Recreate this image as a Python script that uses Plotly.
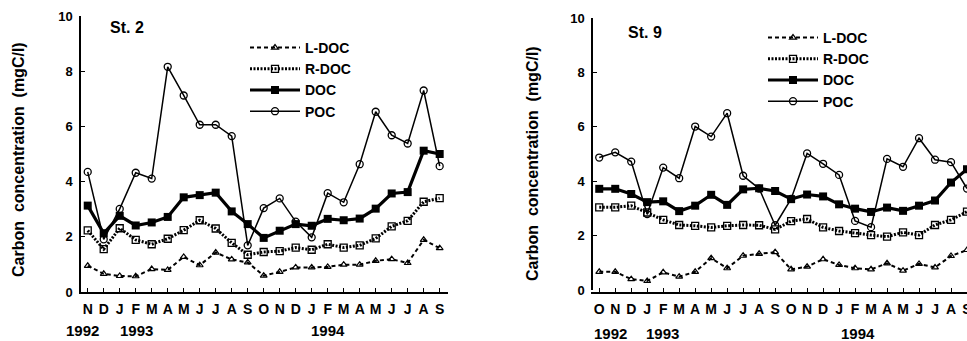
import plotly.graph_objects as go

# ---------------- data ----------------
months_st2 = ["N","D","J","F","M","A","M","J","J","A","S","O","N","D","J","F","M","A","M","J","J","A","S"]
ldoc_st2 = [0.95,0.66,0.58,0.57,0.83,0.80,1.27,0.97,1.43,1.18,1.07,0.59,0.73,0.89,0.89,0.91,0.99,0.99,1.13,1.19,1.05,1.89,1.59]
rdoc_st2 = [2.23,1.55,2.31,1.89,1.73,1.93,2.24,2.60,2.30,1.78,1.35,1.45,1.48,1.61,1.53,1.73,1.61,1.69,1.94,2.38,2.58,3.27,3.40]
doc_st2  = [3.13,2.13,2.76,2.41,2.52,2.72,3.43,3.51,3.60,2.92,2.46,1.96,2.22,2.46,2.40,2.65,2.60,2.66,3.02,3.57,3.62,5.12,5.00]
poc_st2  = [4.35,1.91,3.01,4.32,4.11,8.16,7.12,6.06,6.06,5.65,1.69,3.04,3.39,2.55,1.98,3.58,3.25,4.63,6.53,5.68,5.38,7.30,4.56]

months_st9 = ["O","N","D","J","F","M","A","M","J","J","A","S","O","N","D","J","F","M","A","M","J","J","A","S"]
ldoc_st9 = [0.67,0.67,0.40,0.33,0.65,0.49,0.67,1.17,0.80,1.26,1.33,1.39,0.76,0.86,1.13,0.92,0.80,0.76,0.98,0.71,0.96,0.83,1.25,1.47]
rdoc_st9 = [3.04,3.04,3.10,2.85,2.58,2.39,2.36,2.30,2.36,2.39,2.38,2.23,2.53,2.61,2.30,2.17,2.09,2.02,1.96,2.12,2.02,2.39,2.58,2.88]
doc_st9  = [3.72,3.72,3.53,3.23,3.26,2.90,3.10,3.50,3.13,3.70,3.74,3.64,3.34,3.51,3.44,3.15,2.99,2.87,3.03,2.91,3.10,3.29,3.95,4.44]
poc_st9  = [4.87,5.06,4.72,2.79,4.50,4.11,6.01,5.64,6.50,4.20,3.73,2.38,3.35,5.02,4.64,4.23,2.54,2.31,4.82,4.53,5.58,4.79,4.70,3.73]

series_names = ["L-DOC", "R-DOC", "DOC", "POC"]
y_ticks = [0, 2, 4, 6, 8, 10]

W, H = 967, 341
FONT = "Arial, Liberation Sans, Helvetica, sans-serif"

def px_x(p):
    return p / W

def px_y(p):
    return 1 - p / H

styles = {
    "L-DOC": dict(line=dict(color="black", width=2, dash="4px,3px"),
                  marker=dict(symbol="triangle-up-open", size=6, color="black", line=dict(width=1.2, color="black"))),
    "R-DOC": dict(line=dict(color="black", width=3, dash="2px,1.5px"),
                  marker=dict(symbol="square-open", size=7, color="black", line=dict(width=1.3, color="black"))),
    "DOC": dict(line=dict(color="black", width=3.2),
                marker=dict(symbol="square", size=8, color="black")),
    "POC": dict(line=dict(color="black", width=1.5),
                marker=dict(symbol="circle-open", size=7, color="black", line=dict(width=1.3, color="black"))),
}

fig = go.Figure()

panels = [
    (months_st2, [ldoc_st2, rdoc_st2, doc_st2, poc_st2], "x", "y", "legend"),
    (months_st9, [ldoc_st9, rdoc_st9, doc_st9, poc_st9], "x2", "y2", "legend2"),
]
for months, vals, xa, ya, leg in panels:
    xs = list(range(len(months)))
    for name, v in zip(series_names, vals):
        st = styles[name]
        fig.add_trace(go.Scatter(x=xs, y=v, mode="lines+markers", name=name,
                                 line=st["line"], marker=st["marker"],
                                 xaxis=xa, yaxis=ya, legend=leg, cliponaxis=False))

xtickfont = dict(family=FONT, size=14, color="black", weight="bold")
ytickfont = dict(family=FONT, size=13, color="black", weight="bold")

def xaxis_cfg(months, dom, rng):
    return dict(domain=dom, range=rng, tickmode="array",
                tickvals=list(range(len(months))), ticktext=months,
                ticks="inside", ticklen=4, tickwidth=1.2, tickcolor="black",
                showline=True, linecolor="black", linewidth=1.5,
                showgrid=False, zeroline=False, tickfont=xtickfont,
                ticklabelstandoff=3, ticklabeloverflow="allow",
                automargin=False, fixedrange=True)

def yaxis_cfg(dom, anchor):
    return dict(domain=dom, range=[0, 10], tickmode="array", tickvals=y_ticks,
                ticktext=[str(t) for t in y_ticks],
                ticks="inside", ticklen=4, tickwidth=1.2, tickcolor="black",
                showline=True, linecolor="black", linewidth=1.5,
                showgrid=False, zeroline=False, tickfont=ytickfont,
                anchor=anchor, ticklabelstandoff=4, automargin=False, fixedrange=True)

legfont = dict(family=FONT, size=14, color="black", weight="bold")
fig.update_layout(
    template="none",
    width=W, height=H, autosize=False,
    margin=dict(l=0, r=0, t=0, b=0, pad=0, autoexpand=False),
    paper_bgcolor="white", plot_bgcolor="white",
    font=dict(family=FONT, color="black"),
    xaxis=xaxis_cfg(months_st2, [px_x(81), px_x(448)], [-0.42, 22.52]),
    yaxis=yaxis_cfg([px_y(292), px_y(16)], "x"),
    xaxis2=xaxis_cfg(months_st9, [px_x(593), 1.0], [-0.39, 23.0]),
    yaxis2=yaxis_cfg([px_y(290), px_y(18)], "x2"),
    legend=dict(x=px_x(245), y=px_y(32), xanchor="left", yanchor="top",
                bgcolor="rgba(0,0,0,0)", borderwidth=0, itemwidth=50, tracegroupgap=0, font=legfont),
    legend2=dict(x=px_x(763), y=px_y(22), xanchor="left", yanchor="top",
                 bgcolor="rgba(0,0,0,0)", borderwidth=0, itemwidth=50, tracegroupgap=0, font=legfont),
    showlegend=True,
)

ann_font = dict(family=FONT, size=15, color="black", weight="bold")
title_font = dict(family=FONT, size=16, color="black", weight="bold")
st_font = dict(family=FONT, size=16, color="black", weight="bold")

def ann(text, x, y, font, angle=0):
    return dict(text=text, x=px_x(x), y=px_y(y), xref="paper", yref="paper",
                xanchor="center", yanchor="middle", textangle=angle,
                showarrow=False, font=font)

annotations = [
    ann("St. 2", 127, 27, st_font),
    ann("St. 9", 645, 32, st_font),
    ann("Carbon  concentration  (mgC/l)", 18, 160, title_font, -90),
    ann("Carbon  concentration  (mgC/l)", 532, 164, title_font, -90),
]
years = [("1992", 82.5, 330), ("1993", 136, 330), ("1994", 327.5, 330),
         ("1992", 610, 333), ("1993", 662.5, 333), ("1994", 858, 333)]
for t, xx, yy in years:
    annotations.append(ann(t, xx, yy, ann_font))
fig.update_layout(annotations=annotations)

fig.write_html("out.html")
